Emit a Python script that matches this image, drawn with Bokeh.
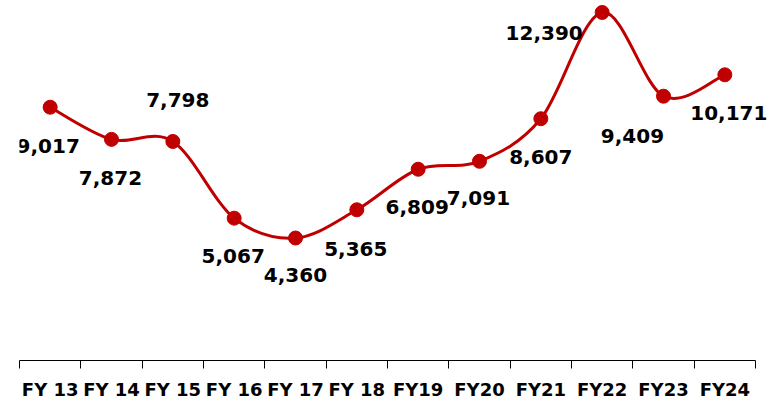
import numpy as np
from bokeh.plotting import figure
from bokeh.models import (ColumnDataSource, LabelSet, Range1d, LinearAxis,
                          FixedTicker)
from bokeh.core.properties import value
from bokeh.embed import file_html
from bokeh.resources import INLINE

# ---- data ----
categories = ["FY 13", "FY 14", "FY 15", "FY 16", "FY 17", "FY 18",
              "FY19", "FY20", "FY21", "FY22", "FY23", "FY24"]
values = [9017, 7872, 7798, 5067, 4360, 5365, 6809, 7091, 8607, 12390, 9409, 10171]
value_labels = ["9,017", "7,872", "7,798", "5,067", "4,360", "5,365",
                "6,809", "7,091", "8,607", "12,390", "9,409", "10,171"]
# label offsets in screen px (x right, y up)
label_dx = [-2, -1, 5, -1, 0, -1, -1, -1, 0, -58, -31, 4]
label_dy = [-39, -39, 41, -38, -37, -39, -38, -37, -38, -21, -40, -38]

RED = "#C00000"
FONT = "DejaVu Sans"

n = len(categories)
xs = np.arange(n) + 0.5
ys = np.array(values, dtype=float)

# frame spans 750px; the category axis occupies the first 736px of it
p = figure(width=769, height=405, output_backend="svg", toolbar_location=None,
           x_range=Range1d(0, n * 750.0 / 736.0), y_range=Range1d(0, 12816),
           x_axis_type=None, y_axis_type=None,
           min_border_left=19, min_border_right=0, min_border_top=0,
           min_border_bottom=45)
p.outline_line_color = None
p.xgrid.visible = False
p.ygrid.visible = False
p.background_fill_color = "white"

# smoothed line through the data points (Catmull-Rom as Bezier segments)
xp = np.concatenate([[xs[0]], xs, [xs[-1]]])
yp = np.concatenate([[ys[0]], ys, [ys[-1]]])
x0 = xs[:-1]; y0 = ys[:-1]; x1 = xs[1:]; y1 = ys[1:]
cx0 = x0 + (xp[2:-1] - xp[:-3]) / 6.0
cy0 = y0 + (yp[2:-1] - yp[:-3]) / 6.0
cx1 = x1 - (xp[3:] - xp[1:-2]) / 6.0
cy1 = y1 - (yp[3:] - yp[1:-2]) / 6.0
p.bezier(x0=x0, y0=y0, x1=x1, y1=y1, cx0=cx0, cy0=cy0, cx1=cx1, cy1=cy1,
         line_color=RED, line_width=3)

src = ColumnDataSource(dict(x=xs, y=ys, label=value_labels,
                            dx=label_dx, dy=label_dy))
p.scatter("x", "y", source=src, size=14, fill_color=RED, line_color=RED)

labels = LabelSet(x="x", y="y", text="label", source=src,
                  x_offset="dx", y_offset="dy",
                  text_align="center", text_baseline="middle",
                  text_font=value(FONT), text_font_style="bold",
                  text_font_size="20px", text_color="black")
p.add_layout(labels)

ax = LinearAxis(ticker=FixedTicker(ticks=list(xs), minor_ticks=list(range(n + 1))),
                bounds=(0, n))
ax.major_label_overrides = {float(x): c for x, c in zip(xs, categories)}
ax.major_tick_in = 0
ax.major_tick_out = 0
ax.minor_tick_in = 0
ax.minor_tick_out = 8
ax.minor_tick_line_color = "black"
ax.minor_tick_line_width = 1
ax.axis_line_color = "black"
ax.axis_line_width = 1
ax.major_label_standoff = 10
ax.major_label_text_font = FONT
ax.major_label_text_font_style = "bold"
ax.major_label_text_font_size = "18px"
ax.major_label_text_color = "black"
p.add_layout(ax, "below")

open("out.html", "w").write(file_html(p, INLINE))
